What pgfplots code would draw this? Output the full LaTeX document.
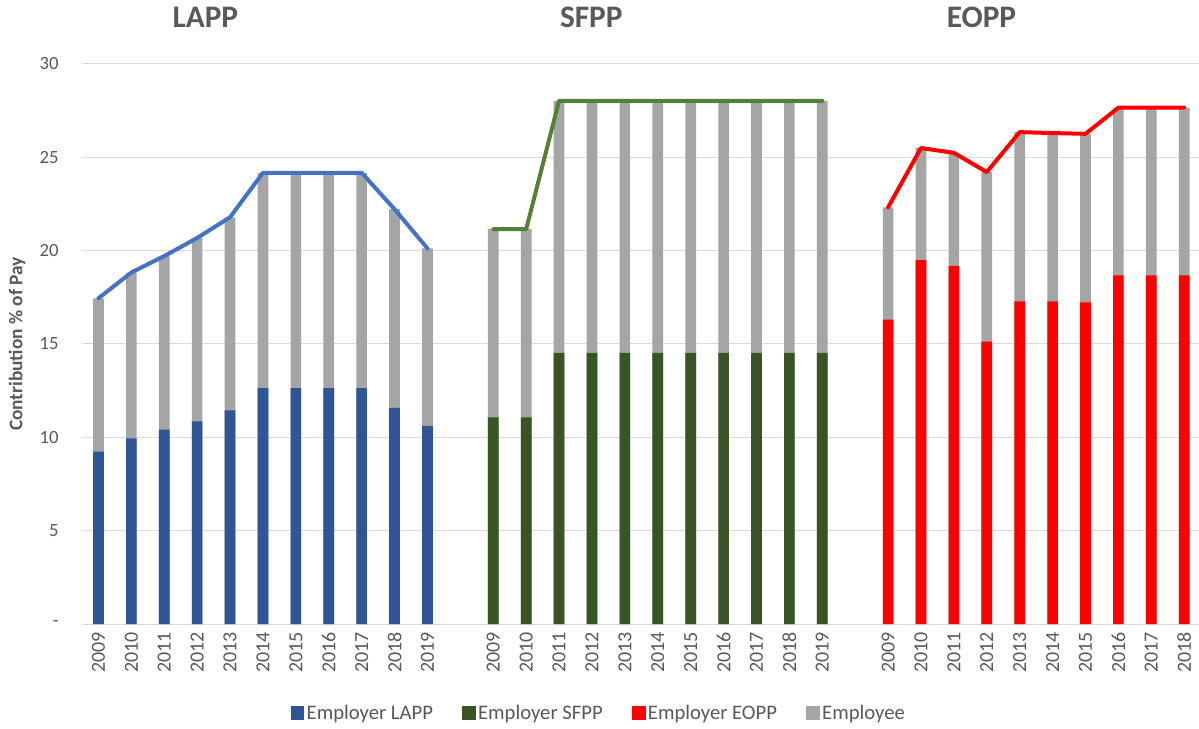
\documentclass[border=0pt]{standalone}
\usepackage{fontspec}
\setmainfont{Carlito}
\usepackage{pgfplots}
\pgfplotsset{compat=1.18}
\definecolor{txt}{HTML}{595959}
\definecolor{grd}{HTML}{D9D9D9}
\definecolor{lappbar}{HTML}{2F5597}
\definecolor{lappline}{HTML}{4472C4}
\definecolor{sfppbar}{HTML}{375623}
\definecolor{sfppline}{HTML}{548235}
\definecolor{eopp}{HTML}{FF0000}
\definecolor{empl}{HTML}{A5A5A5}
\begin{document}
\begin{tikzpicture}
\begin{axis}[name=ax, scale only axis, width=837.75pt, height=420pt,
  xmin=-0.5, xmax=33.45, ymin=0, ymax=30, clip=false,
  axis line style={draw=none},
  ymajorgrids, grid style={grd, line width=0.75pt},
  major tick length=0pt,
  ytick={0,5,10,15,20,25,30}, yticklabels={-,5,10,15,20,25,30},
  xtick={0,1,2,3,4,5,6,7,8,9,10,12,13,14,15,16,17,18,19,20,21,22,24,25,26,27,28,29,30,31,32,33},
  xticklabels={2009,2010,2011,2012,2013,2014,2015,2016,2017,2018,2019,2009,2010,2011,2012,2013,2014,2015,2016,2017,2018,2019,2009,2010,2011,2012,2013,2014,2015,2016,2017,2018},
  /pgf/number format/assume math mode=true,
  xticklabel style={rotate=90, anchor=east, font=\fontsize{15}{17}\selectfont, text=txt},
  yticklabel style={font=\fontsize{14}{16}\selectfont, text=txt},
  yticklabel shift=14pt, xticklabel shift=2.5pt,
  ylabel={Contribution \% of Pay},
  ylabel style={at={(axis description cs:-0.058,0.5)}, anchor=center, font=\bfseries\fontsize{14.5}{16}\selectfont, text=txt},
  legend style={at={(axis description cs:0.463,-0.159)}, anchor=center, legend columns=4, draw=none, fill=none,
    font=\fontsize{15.5}{17}\selectfont, text=txt,
    /tikz/every even column/.append style={column sep=20pt}},
  legend cell align=left,
]
% Totals (employer + employee)
\addplot[ybar, bar width=8pt, bar shift=0pt, fill=empl, draw=none, forget plot] coordinates {
 (0,17.45) (1,18.83) (2,19.71) (3,20.68) (4,21.79) (5,24.17) (6,24.17) (7,24.17) (8,24.17) (9,22.22) (10,20.12)
 (12,21.15) (13,21.15) (14,28.03) (15,28.03) (16,28.03) (17,28.03) (18,28.03) (19,28.03) (20,28.03) (21,28.03) (22,28.03)
 (24,22.32) (25,25.50) (26,25.24) (27,24.21) (28,26.35) (29,26.30) (30,26.26) (31,27.66) (32,27.66) (33,27.66)};
% Employer LAPP
\addplot[ybar, bar width=8pt, bar shift=0pt, fill=lappbar, draw=none, forget plot] coordinates {
 (0,9.24) (1,9.94) (2,10.41) (3,10.86) (4,11.44) (5,12.63) (6,12.63) (7,12.63) (8,12.63) (9,11.58) (10,10.62)};
% Employer SFPP
\addplot[ybar, bar width=8pt, bar shift=0pt, fill=sfppbar, draw=none, forget plot] coordinates {
 (12,11.07) (13,11.07) (14,14.52) (15,14.52) (16,14.52) (17,14.52) (18,14.52) (19,14.52) (20,14.52) (21,14.52) (22,14.52)};
% Employer EOPP
\addplot[ybar, bar width=8pt, bar shift=0pt, fill=eopp, draw=none, forget plot] coordinates {
 (24,16.30) (25,19.49) (26,19.18) (27,15.13) (28,17.29) (29,17.29) (30,17.23) (31,18.67) (32,18.67) (33,18.67)};
% Total lines
\addplot[sharp plot, lappline, line width=3pt, line cap=round, line join=round, forget plot] coordinates {
 (0,17.45) (1,18.83) (2,19.71) (3,20.68) (4,21.79) (5,24.17) (6,24.17) (7,24.17) (8,24.17) (9,22.22) (10,20.12)};
\addplot[sharp plot, sfppline, line width=3pt, line cap=round, line join=round, forget plot] coordinates {
 (12,21.15) (13,21.15) (14,28.03) (15,28.03) (16,28.03) (17,28.03) (18,28.03) (19,28.03) (20,28.03) (21,28.03) (22,28.03)};
\addplot[sharp plot, eopp, line width=3pt, line cap=round, line join=round, forget plot] coordinates {
 (24,22.32) (25,25.50) (26,25.24) (27,24.21) (28,26.35) (29,26.30) (30,26.26) (31,27.66) (32,27.66) (33,27.66)};
% Legend
\addlegendimage{legend image code/.code={\fill[lappbar] (0pt,-4.8pt) rectangle (9.5pt,4.8pt);}}
\addlegendentry{Employer LAPP}
\addlegendimage{legend image code/.code={\fill[sfppbar] (0pt,-4.8pt) rectangle (9.5pt,4.8pt);}}
\addlegendentry{Employer SFPP}
\addlegendimage{legend image code/.code={\fill[eopp] (0pt,-4.8pt) rectangle (9.5pt,4.8pt);}}
\addlegendentry{Employer EOPP}
\addlegendimage{legend image code/.code={\fill[empl] (0pt,-4.8pt) rectangle (9.5pt,4.8pt);}}
\addlegendentry{Employee}
% Titles
\node[font=\bfseries\fontsize{23.5}{26}\selectfont, text=txt] at (axis cs:3.25,32.5) {LAPP};
\node[font=\bfseries\fontsize{23.5}{26}\selectfont, text=txt] at (axis cs:14.98,32.5) {SFPP};
\node[font=\bfseries\fontsize{23.5}{26}\selectfont, text=txt] at (axis cs:26.84,32.5) {EOPP};
\end{axis}
\pgfresetboundingbox
\path[use as bounding box] ([xshift=-61.5pt,yshift=-78pt]ax.south west) rectangle ([yshift=48pt]ax.north east);
\end{tikzpicture}
\end{document}
